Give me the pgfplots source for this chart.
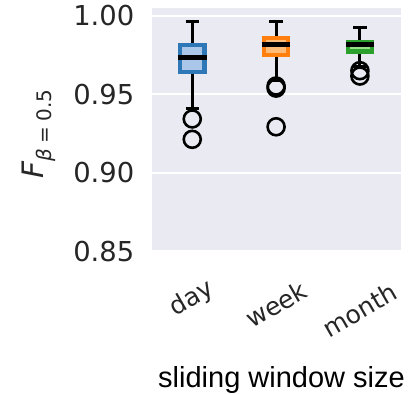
\documentclass[border=0pt]{standalone}
\usepackage{fontspec}
\setmainfont{DejaVu Sans}
\newfontfamily\labfont{Liberation Sans}
\usepackage{pgfplots}
\pgfplotsset{compat=1.18}
\usepgfplotslibrary{statistics}
\definecolor{bgcol}{HTML}{EAEAF2}
\definecolor{txtcol}{HTML}{262626}
\definecolor{bedge}{HTML}{2F78B7}
\definecolor{bfill}{HTML}{AAC6E8}
\definecolor{oedge}{HTML}{FF800E}
\definecolor{ofill}{HTML}{FFBB78}
\definecolor{gedge}{HTML}{2CA02C}
\definecolor{gfill}{HTML}{98DF8A}
\pgfplotsset{
  mybox/.style n args={2}{
    boxplot/draw direction=y,
    boxplot/box extend=0.29,
    boxplot/whisker extend=0.16,
    boxplot/every box/.style={draw=#1, fill=#2, line width=4.5bp},
    boxplot/every median/.style={draw=black, line width=5bp, shorten <=-2.25bp, shorten >=-2.25bp},
    boxplot/every whisker/.style={draw=black, line width=3bp},
    mark=o, mark size=8.5bp, mark options={draw=black, fill=none, line width=2.6bp, solid},
  }
}
\begin{document}
\begin{tikzpicture}
\useasboundingbox (0,0) rectangle (415bp,395bp);
\begin{axis}[
  at={(152bp,143bp)}, anchor=south west,
  scale only axis, width=249bp, height=244bp,
  xmin=0.52, xmax=3.49, ymin=0.8494, ymax=1.0051,
  axis background/.style={fill=bgcol},
  axis line style={draw=none},
  major tick length=0pt,
  ymajorgrids, grid style={white, line width=2bp},
  ytick={0.85,0.90,0.95,1.00},
  yticklabels={0.85,0.90,0.95,1.00},
  xtick={1,2,3},
  xticklabels={day,week,month},
  yticklabel style={font=\fontsize{27.4bp}{30bp}\selectfont, text=txtcol, anchor=east, inner sep=0pt, xshift=-17.5bp},
  xticklabel style={font=\fontsize{25bp}{28bp}\selectfont, text=txtcol, anchor=center, inner sep=0pt, yshift=-47bp-5.5bp*\ticknum, rotate=30},
  xlabel={\labfont\fontsize{29bp}{34bp}\selectfont sliding window size},
  xlabel style={at={(axis description cs:0.5,0)}, anchor=base, inner sep=0pt, yshift=-135bp, xshift=5bp},
  ylabel={{\fontsize{29.5bp}{34bp}\selectfont\itshape F}\raisebox{-8bp}{\fontsize{20bp}{22bp}\selectfont{\itshape β}\;=\;0.5}},
  ylabel style={at={(axis description cs:-0.4365,0.4836)}, anchor=base, inner sep=0pt, text=txtcol},
]
\addplot[mybox={bedge}{bfill}, boxplot prepared={draw position=1,
  lower whisker=0.9408, lower quartile=0.9644, median=0.9736,
  upper quartile=0.9815, upper whisker=0.9964}]
  table[row sep=\\, y index=0] {y\\ 0.9343\\ 0.9213\\};
\addplot[mybox={oedge}{ofill}, boxplot prepared={draw position=2,
  lower whisker=0.9590, lower quartile=0.9751, median=0.9817,
  upper quartile=0.9858, upper whisker=0.9962}]
  table[row sep=\\, y index=0] {y\\ 0.9553\\ 0.9540\\ 0.9293\\};
\addplot[mybox={gedge}{gfill}, boxplot prepared={draw position=3,
  lower whisker=0.9680, lower quartile=0.9772, median=0.9817,
  upper quartile=0.9832, upper whisker=0.9928}]
  table[row sep=\\, y index=0] {y\\ 0.9651\\ 0.9617\\};
\end{axis}
\end{tikzpicture}
\end{document}
